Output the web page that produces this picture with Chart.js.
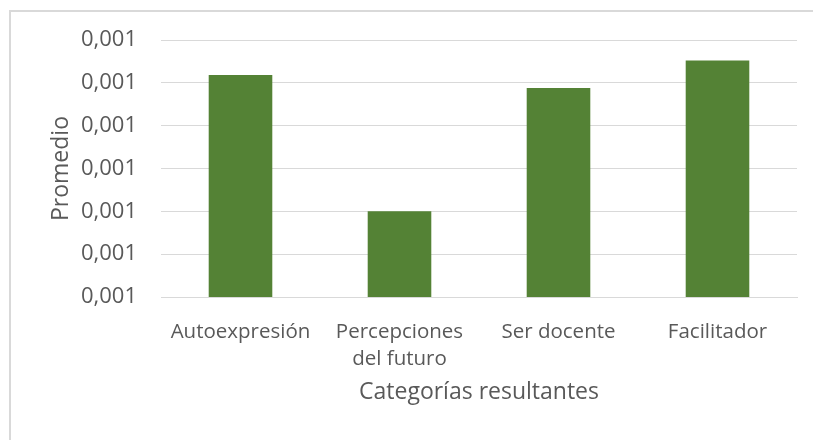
<!DOCTYPE html>
<html>
<head>
<meta charset="utf-8">
<script src="https://cdn.jsdelivr.net/npm/chart.js@4"></script>
<style>
	html, body { margin: 0; padding: 0; background: #fff; overflow: hidden; }
	#wrap { position: absolute; left: 0; top: 0; width: 813px; height: 440px; }
</style>
</head>
<body>
<div id="wrap"><canvas id="myChart"></canvas></div>
<script>
const categories = ["Autoexpresión", ["Percepciones", "del futuro"], "Ser docente", "Facilitador"];
const promedio = [0.001259, 0.001100, 0.001244, 0.001276];
const yTickLabels = ["0,001", "0,001", "0,001", "0,001", "0,001", "0,001", "0,001"];

const textColor = "#595959";
const gridColor = "#d9d9d9";
const fontFamily = "'Open Sans', sans-serif";

// light frame of the chart box, only its left and top edges are in view
const framePlugin = {
	id: "frame",
	beforeDraw(chart) {
		const c = chart.ctx;
		c.save();
		c.strokeStyle = gridColor;
		c.lineWidth = 2;
		c.beginPath();
		c.moveTo(10, chart.height);
		c.lineTo(10, 11);
		c.lineTo(chart.width, 11);
		c.stroke();
		c.restore();
	},
};

const canvas = document.getElementById("myChart");
const ctx = canvas.getContext("2d");

new Chart(ctx, {
	type: "bar",
	data: {
		labels: categories,
		datasets: [
			{
				label: "Promedio",
				data: promedio,
				backgroundColor: "#548235",
				barPercentage: 0.4,
				categoryPercentage: 1,
			},
		],
	},
	options: {
		responsive: true,
		maintainAspectRatio: false,
		animation: false,
		layout: { padding: { left: 0, top: 40, right: 16, bottom: 0 } },
		plugins: {
			legend: { display: false },
			tooltip: { enabled: false },
		},
		scales: {
			x: {
				grid: { display: false },
				border: { display: true, color: gridColor, width: 1 },
				ticks: {
					color: textColor,
					font: { family: fontFamily, size: 20.5, lineHeight: 1.32 },
					padding: 14,
					maxRotation: 0,
				},
				title: {
					display: true,
					text: "Categorías resultantes",
					color: textColor,
					font: { family: fontFamily, size: 23 },
					padding: { top: 0, bottom: 34 },
				},
				afterFit: (scale) => { scale.height = 143; },
			},
			y: {
				min: 0.001,
				max: 0.0013,
				grid: { color: gridColor, lineWidth: 1, drawTicks: false },
				border: { display: false },
				ticks: {
					count: 7,
					color: textColor,
					font: { family: fontFamily, size: 22 },
					padding: 24,
					callback: (value, index) => yTickLabels[index],
				},
				title: {
					display: true,
					text: "Promedio",
					color: textColor,
					font: { family: fontFamily, size: 23 },
					padding: { top: 48, bottom: 0 },
				},
				afterFit: (scale) => { scale.width = 161; },
			},
		},
	},
	plugins: [framePlugin],
});
</script>
</body>
</html>
